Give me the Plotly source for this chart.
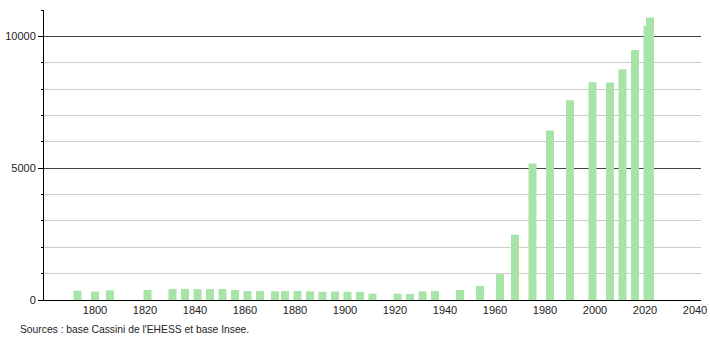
import plotly.graph_objects as go

years = [1793, 1800, 1806, 1821, 1831, 1836, 1841, 1846, 1851, 1856,
         1861, 1866, 1872, 1876, 1881, 1886, 1891, 1896, 1901, 1906,
         1911, 1921, 1926, 1931, 1936, 1946, 1954, 1962, 1968, 1975,
         1982, 1990, 1999, 2006, 2011, 2016, 2021, 2022]
population = [350, 320, 370, 380, 420, 420, 410, 410, 420, 380,
              340, 340, 330, 340, 340, 330, 310, 320, 310, 310,
              240, 240, 230, 330, 340, 380, 530, 980, 2475, 5180,
              6430, 7575, 8260, 8250, 8755, 9480, 10400, 10720]

x_ticks = [1800, 1820, 1840, 1860, 1880, 1900, 1920, 1940, 1960, 1980, 2000, 2020, 2040]
y_ticks = [0, 5000, 10000]
source_text = "Sources : base Cassini de l'EHESS et base Insee."

fig = go.Figure()
fig.add_trace(go.Bar(
    x=years, y=population, width=3.2,
    marker=dict(color="rgb(168,228,168)", line=dict(width=0)),
    hoverinfo="skip",
))

fig.update_layout(
    width=710, height=340,
    margin=dict(l=44, r=9, t=10, b=40),
    paper_bgcolor="white", plot_bgcolor="white",
    showlegend=False,
    font=dict(family="Liberation Sans, Arial, sans-serif", size=11, color="#222"),
    xaxis=dict(
        range=[1779.6, 2042.4], automargin=False,
        tickvals=x_ticks, ticktext=[str(v) for v in x_ticks],
        showgrid=False, zeroline=False,
        showline=True, linecolor="black", linewidth=1,
        ticks="", tickfont=dict(size=11, color="#222"),
    ),
    yaxis=dict(
        range=[0, 11000], automargin=False,
        tickvals=y_ticks, ticktext=[str(v) for v in y_ticks],
        showgrid=True, gridcolor="#444", gridwidth=1,
        zeroline=False,
        showline=True, linecolor="black", linewidth=1,
        ticks="outside", ticklen=5, tickcolor="black",
        tickfont=dict(size=11, color="#222"),
        minor=dict(dtick=1000, tick0=0, showgrid=True, gridcolor="#cccccc",
                   gridwidth=1, ticks="outside", ticklen=2, tickcolor="black"),
    ),
    annotations=[dict(
        text=source_text, xref="paper", yref="paper",
        x=-0.04, y=-0.1, xanchor="left", yanchor="middle",
        showarrow=False, font=dict(size=10.3, color="#222"),
    )],
)

fig.write_html("out.html")
